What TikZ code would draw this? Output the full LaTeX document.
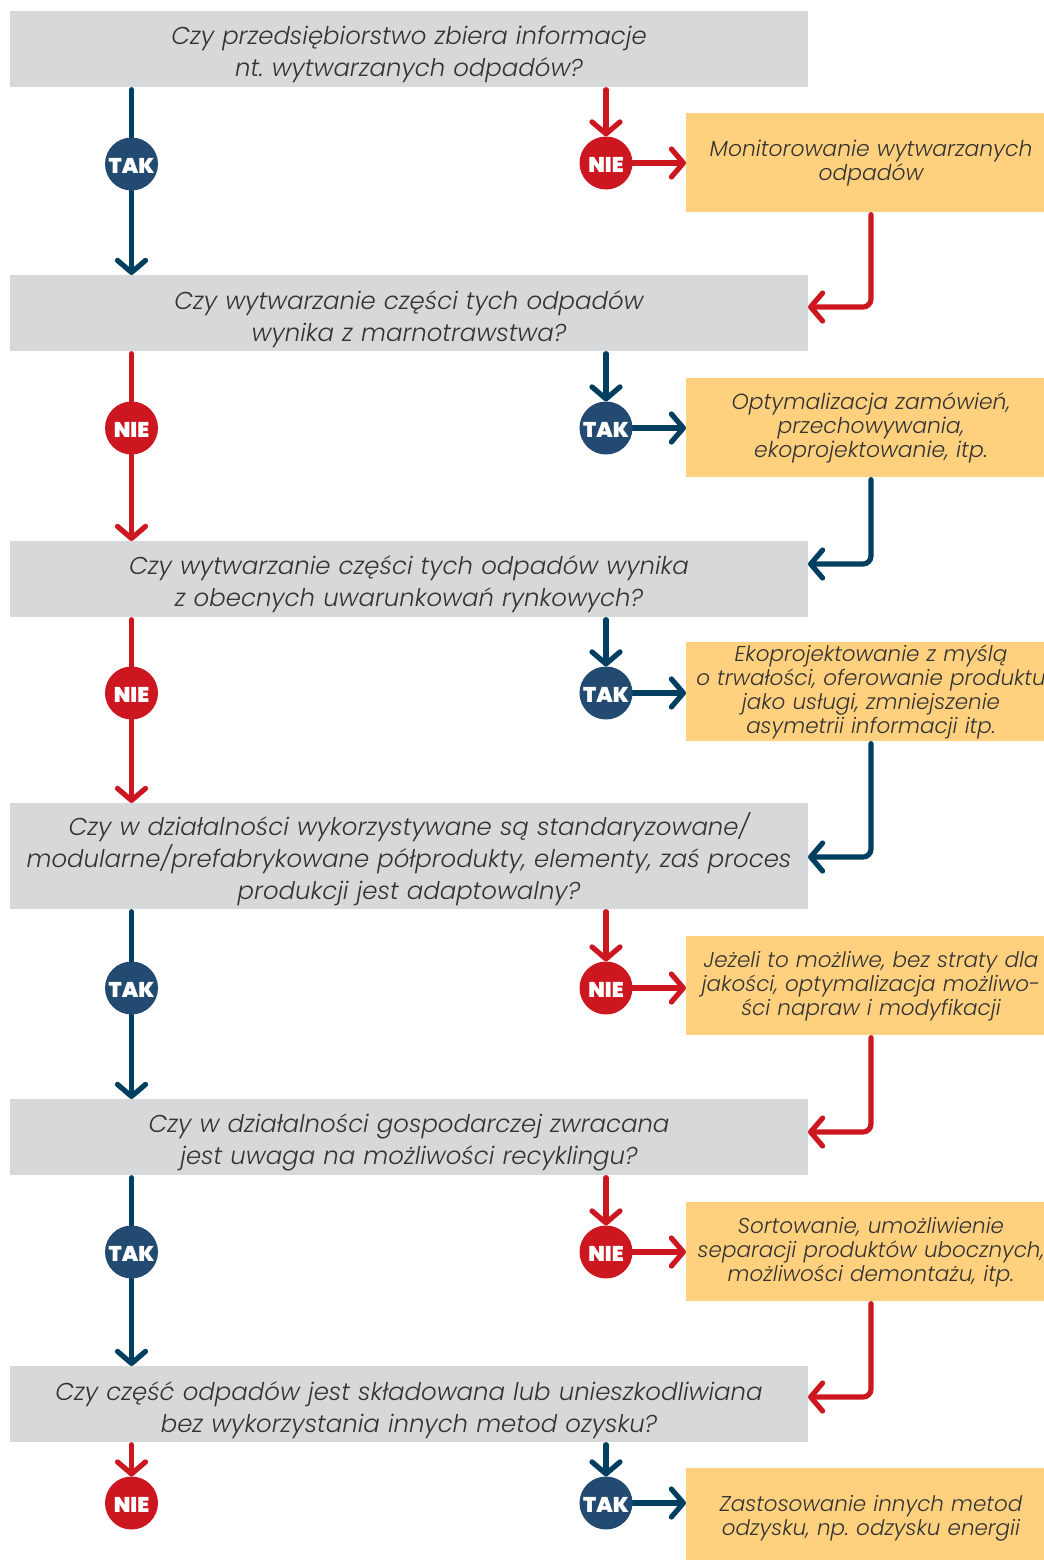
\documentclass[tikz,border=0pt]{standalone}
\usepackage{fontspec}
\usetikzlibrary{arrows.meta}
\setmainfont{Poppins Light}[ItalicFont={Poppins Light Italic},BoldFont={Poppins Black}]
\definecolor{qgrey}{HTML}{D7D8DA}
\definecolor{aorange}{HTML}{FFD17F}
\definecolor{navyline}{HTML}{003F5F}
\definecolor{navycirc}{HTML}{234A70}
\definecolor{redm}{HTML}{CC1720}
\definecolor{txt}{HTML}{333333}
\pgfdeclarelayer{boxes}
\pgfdeclarelayer{lines}
\pgfsetlayers{boxes,lines,main}
\newcommand{\lowertext}[1]{\raisebox{-1.2pt}[11.2pt][0pt]{#1}}
\tikzset{
  x=0.75pt,y=-0.75pt,
  box/.style={inner sep=0pt,outer sep=0pt,anchor=north west,text=txt,align=center},
  qbox/.style={box,fill=qgrey,text width=598.5pt,font=\fontsize{18.3}{24}\selectfont\itshape,
    execute at begin node={\rule{0pt}{\dimexpr 13.5pt+#1\relax}}},
  abox/.style={box,fill=aorange,text width=268.5pt,font=\fontsize{16.1}{18}\selectfont\itshape,
    execute at begin node={\leftskip=4.5pt plus 1fil\rightskip=-4.5pt plus 1fil\relax\rule{0pt}{\dimexpr 12pt+#1\relax}}},
  widea/.style={font=\fontsize{16.4}{18}\selectfont\itshape},
  yesn/.style={circle,fill=navycirc,minimum size=39.75pt,inner sep=0pt,outer sep=0pt,text=white,font=\fontsize{16}{15}\selectfont\bfseries},
  non/.style={circle,fill=redm,minimum size=39.75pt,inner sep=0pt,outer sep=0pt,text=white,font=\fontsize{16}{15}\selectfont\bfseries},
  conn/.style={line width=3.9pt,line cap=round,rounded corners=6pt},
  tipd/.style={conn,-{Straight Barb[length=9pt,width=21pt,round]}},
  fromb/.style={shorten <=2pt},
  yesl/.style={conn,draw=navyline},
  nol/.style={conn,draw=redm},
  yesa/.style={tipd,draw=navyline},
  noa/.style={tipd,draw=redm},
}
\begin{document}
\frenchspacing
\begin{tikzpicture}
\useasboundingbox (0,0) rectangle (1044,1560);
\coordinate (lx) at (131.5,0);
\coordinate (rx) at (606,0);
\coordinate (ox) at (871,0);
\begin{pgfonlayer}{boxes}
% questions
\node[qbox=8.5pt,minimum height=57pt] (q1) at (10,11) {Czy przedsiębiorstwo zbiera informacje\\nt. wytwarzanych odpadów?};
\node[qbox=10pt,minimum height=57pt] (q2) at (10,275) {Czy wytwarzanie części tych odpadów\\wynika z marnotrawstwa?};
\node[qbox=8.5pt,minimum height=57pt] (q3) at (10,541) {Czy wytwarzanie części tych odpadów wynika\\z obecnych uwarunkowań rynkowych?};
\node[qbox=9pt,minimum height=79.5pt] (q4) at (10,803) {Czy w działalności wykorzystywane są standaryzowane/\\modularne/prefabrykowane półprodukty, elementy, zaś proces\\produkcji jest adaptowalny?};
\node[qbox=9pt,minimum height=57pt] (q5) at (10,1099) {Czy w działalności gospodarczej zwracana\\jest uwaga na możliwości recyklingu?};
\node[qbox=10pt,minimum height=57pt] (q6) at (10,1366) {Czy część odpadów jest składowana lub unieszkodliwiana\\bez wykorzystania innych metod ozysku?};
% actions
\node[abox=1.2pt,widea,minimum height=74.25pt] (a1) at (686,113) {Monitorowanie wytwarzanych\\odpadów};
\node[abox=0pt,widea,minimum height=74.25pt] (a2) at (686,378) {Optymalizacja zamówień,\\przechowywania,\\ekoprojektowanie, itp.};
\node[abox=0pt,minimum height=74.25pt] (a3) at (686,642) {Ekoprojektowanie z myślą\\o trwałości, oferowanie produktu\\jako usługi, zmniejszenie\\asymetrii informacji itp.};
\node[abox=1.2pt,minimum height=74.25pt] (a4) at (686,936) {Jeżeli to możliwe, bez straty dla\\jakości, optymalizacja możliwo-\\ści napraw i modyfikacji};
\node[abox=1.2pt,minimum height=74.25pt] (a5) at (686,1202) {Sortowanie, umożliwienie\\separacji produktów ubocznych,\\możliwości demontażu, itp.};
\node[abox=7pt,minimum height=69pt] (a6) at (686,1468) {Zastosowanie innych metod\\odzysku, np. odzysku energii};
\end{pgfonlayer}
% circles
\node[yesn] (l1) at (131.5,164) {\lowertext{TAK}};
\node[non] (r1) at (606,163) {\lowertext{NIE}};
\node[non] (l2) at (131.5,428) {\lowertext{NIE}};
\node[yesn] (r2) at (606,428) {\lowertext{TAK}};
\node[non] (l3) at (131.5,693) {\lowertext{NIE}};
\node[yesn] (r3) at (606,693) {\lowertext{TAK}};
\node[yesn] (l4) at (131.5,988) {\lowertext{TAK}};
\node[non] (r4) at (606,988) {\lowertext{NIE}};
\node[yesn] (l5) at (131.5,1252) {\lowertext{TAK}};
\node[non] (r5) at (606,1252) {\lowertext{NIE}};
\node[non] (l6) at (131.5,1503) {\lowertext{NIE}};
\node[yesn] (r6) at (606,1503) {\lowertext{TAK}};
% connector targets on the right edges of the questions
\coordinate (t2) at (808,307);
\coordinate (t3) at (808,564);
\coordinate (t4) at (808,857);
\coordinate (t5) at (808,1132);
\coordinate (t6) at (808,1397);
% connectors
\begin{pgfonlayer}{lines}
\draw[yesl,fromb] (q1.south -| lx) -- (l1);
\draw[yesa] (l1) -- (q2.north -| lx);
\draw[noa,fromb] (q1.south -| rx) -- (r1.north);
\draw[noa] (r1) -- (a1.west |- r1);
\draw[noa,fromb] (a1.south -| ox) |- (t2);
\draw[nol,fromb] (q2.south -| lx) -- (l2);
\draw[noa] (l2) -- (q3.north -| lx);
\draw[yesa,fromb] (q2.south -| rx) -- (r2.north);
\draw[yesa] (r2) -- (a2.west |- r2);
\draw[yesa,fromb] (a2.south -| ox) |- (t3);
\draw[nol,fromb] (q3.south -| lx) -- (l3);
\draw[noa] (l3) -- (q4.north -| lx);
\draw[yesa,fromb] (q3.south -| rx) -- (r3.north);
\draw[yesa] (r3) -- (a3.west |- r3);
\draw[yesa,fromb] (a3.south -| ox) |- (t4);
\draw[yesl,fromb] (q4.south -| lx) -- (l4);
\draw[yesa] (l4) -- (q5.north -| lx);
\draw[noa,fromb] (q4.south -| rx) -- (r4.north);
\draw[noa] (r4) -- (a4.west |- r4);
\draw[noa,fromb] (a4.south -| ox) |- (t5);
\draw[yesl,fromb] (q5.south -| lx) -- (l5);
\draw[yesa] (l5) -- (q6.north -| lx);
\draw[noa,fromb] (q5.south -| rx) -- (r5.north);
\draw[noa] (r5) -- (a5.west |- r5);
\draw[noa,fromb] (a5.south -| ox) |- (t6);
\draw[noa,fromb] (q6.south -| lx) -- (l6.north);
\draw[yesa,fromb] (q6.south -| rx) -- (r6.north);
\draw[yesa] (r6) -- (a6.west |- r6);
\end{pgfonlayer}
\end{tikzpicture}
\end{document}
